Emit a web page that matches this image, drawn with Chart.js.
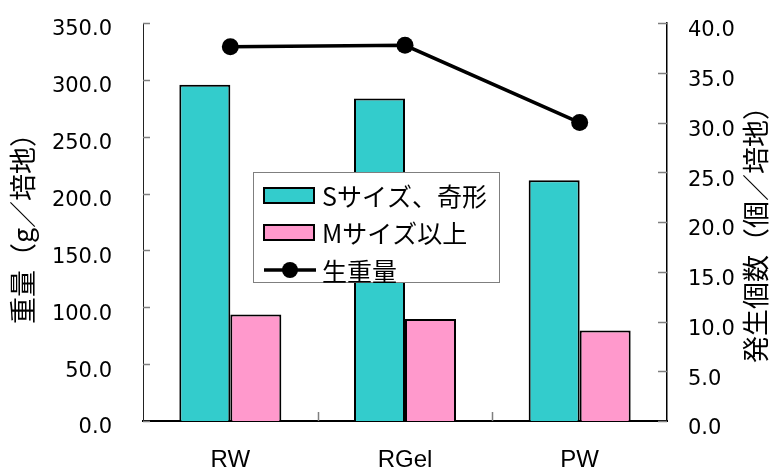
<!DOCTYPE html>
<html>
<head>
<meta charset="utf-8">
<script src="https://cdn.jsdelivr.net/npm/chart.js@4/dist/chart.umd.min.js"></script>
<style>
  html, body { margin: 0; padding: 0; background: #fff; }
  #wrap { width: 773px; height: 469px; }
</style>
</head>
<body>
<div id="wrap"><canvas id="c" width="773" height="469"></canvas></div>
<script>
// Categories and series
const categories = ['RW', 'RGel', 'PW'];
const sSizeCounts = [33.8, 32.4, 24.2];     // Sサイズ、奇形 (個／培地)
const mSizeCounts = [10.7, 10.25, 9.1];     // Mサイズ以上 (個／培地)
const freshWeight = [329.2, 330.4, 262.4];  // 生重量 (g／培地)

// Axis tick values
const weightTicks = [0, 50, 100, 150, 200, 250, 300, 350];
const countTicks = [0, 5, 10, 15, 20, 25, 30, 35, 40];

const seriesNames = ['Sサイズ、奇形', 'Mサイズ以上', '生重量'];
const weightTitle = '重量（g／培地）';
const countTitle = '発生個数（個／培地）';

const TEAL = '#33CCCC';
const PINK = '#FF99CC';
const JP_FONT = '"Noto Sans CJK JP", "Noto Sans", sans-serif';
const NUM_FONT = '"DejaVu Sans", sans-serif';
const LAT_FONT = '"Liberation Sans", Arial, sans-serif';

// Short inward tick marks on all axes, plus rotated axis titles and the in-plot legend
const decorations = {
  id: 'decorations',
  afterDraw(chart) {
    const ctx = chart.ctx;
    const area = chart.chartArea;
    const y = chart.scales.y, y1 = chart.scales.y1, x = chart.scales.x;
    ctx.save();
    ctx.strokeStyle = '#7f7f7f';
    ctx.lineWidth = 1.5;
    y.ticks.forEach(t => {
      const py = Math.round(y.getPixelForValue(t.value)) + 0.5;
      ctx.beginPath(); ctx.moveTo(area.left, py); ctx.lineTo(area.left + 7, py); ctx.stroke();
    });
    y1.ticks.forEach(t => {
      const py = Math.round(y1.getPixelForValue(t.value)) + 0.5;
      ctx.beginPath(); ctx.moveTo(area.right - 9, py); ctx.lineTo(area.right, py); ctx.stroke();
    });
    for (let i = 0; i < categories.length - 1; i++) {
      const px = Math.round((x.getPixelForValue(i) + x.getPixelForValue(i + 1)) / 2) + 0.5;
      ctx.beginPath(); ctx.moveTo(px, area.bottom - 9); ctx.lineTo(px, area.bottom); ctx.stroke();
    }

    // axis titles, both reading bottom-to-top
    ctx.fillStyle = '#000';
    ctx.font = '27px ' + JP_FONT;
    ctx.textAlign = 'center';
    ctx.textBaseline = 'middle';
    ctx.save();
    ctx.translate(area.left - 120, (area.top + area.bottom) / 2);
    ctx.rotate(-Math.PI / 2);
    ctx.fillText(weightTitle, 0, 0);
    ctx.restore();
    ctx.save();
    ctx.translate(area.right + 89, (area.top + area.bottom) / 2 + 6);
    ctx.rotate(-Math.PI / 2);
    ctx.fillText(countTitle, 0, 0);
    ctx.restore();

    // legend box
    const lx = area.left + 110, ly = 172, lw = 246, lh = 110;
    ctx.fillStyle = '#fff';
    ctx.fillRect(lx, ly, lw, lh);
    ctx.strokeStyle = '#7f7f7f';
    ctx.lineWidth = 1;
    ctx.strokeRect(lx + 0.5, ly + 0.5, lw, lh);
    const rows = [ly + 23, ly + 60, ly + 98];
    const sw = [TEAL, PINK];
    ctx.lineWidth = 2;
    for (let i = 0; i < 2; i++) {
      ctx.fillStyle = sw[i];
      ctx.fillRect(lx + 11, rows[i] - 7, 50, 15);
      ctx.strokeStyle = '#000';
      ctx.strokeRect(lx + 11, rows[i] - 7, 50, 15);
    }
    ctx.strokeStyle = '#000';
    ctx.lineWidth = 3.5;
    ctx.beginPath(); ctx.moveTo(lx + 11, rows[2]); ctx.lineTo(lx + 63, rows[2]); ctx.stroke();
    ctx.fillStyle = '#000';
    ctx.beginPath(); ctx.arc(lx + 37, rows[2], 8, 0, Math.PI * 2); ctx.fill();
    ctx.font = '25px ' + JP_FONT;
    ctx.textAlign = 'left';
    ctx.textBaseline = 'middle';
    for (let i = 0; i < 3; i++) ctx.fillText(seriesNames[i], lx + 69, rows[i] + 1);
    ctx.restore();
  }
};

new Chart(document.getElementById('c'), {
  type: 'bar',
  data: {
    labels: categories,
    datasets: [
      {
        type: 'line', label: seriesNames[2], data: freshWeight, yAxisID: 'y', order: 0,
        borderColor: '#000', borderWidth: 3.5, backgroundColor: '#000',
        pointRadius: 8.5, pointBackgroundColor: '#000', pointBorderColor: '#000', pointBorderWidth: 0,
        tension: 0, fill: false
      },
      {
        label: seriesNames[0], data: sSizeCounts, yAxisID: 'y1', order: 1,
        backgroundColor: TEAL, borderColor: '#000', borderWidth: 2,
        categoryPercentage: 0.584, barPercentage: 1.0
      },
      {
        label: seriesNames[1], data: mSizeCounts, yAxisID: 'y1', order: 1,
        backgroundColor: PINK, borderColor: '#000', borderWidth: 2,
        categoryPercentage: 0.584, barPercentage: 1.0
      }
    ]
  },
  options: {
    responsive: false,
    animation: false,
    devicePixelRatio: 1,
    layout: { padding: { top: 23, left: 0, right: 0, bottom: 0 } },
    plugins: { legend: { display: false }, tooltip: { enabled: false } },
    scales: {
      x: {
        grid: { display: false, drawTicks: false },
        border: { display: true, color: '#000', width: 2 },
        ticks: { font: { family: LAT_FONT, size: 24 }, color: '#000', padding: 25 },
        afterFit(s) { s.height = 48; s.paddingLeft = 0; s.paddingRight = 0; }
      },
      y: {
        position: 'left', min: 0, max: 350,
        grid: { display: false, drawTicks: false },
        border: { display: true, color: '#222', width: 1 },
        afterBuildTicks(s) { s.ticks = weightTicks.map(v => ({ value: v })); },
        ticks: {
          font: { family: NUM_FONT, size: 21 }, color: '#000', padding: 31, labelOffset: 7,
          callback: v => Number(v).toFixed(1)
        },
        afterFit(s) { s.width = 143; s.paddingTop = 0; s.paddingBottom = 0; }
      },
      y1: {
        position: 'right', min: 0, max: 40,
        grid: { display: false, drawTicks: false },
        border: { display: true, color: '#000', width: 1.5 },
        afterBuildTicks(s) { s.ticks = countTicks.map(v => ({ value: v })); },
        ticks: {
          font: { family: NUM_FONT, size: 21 }, color: '#000', padding: 21, labelOffset: 8,
          callback: v => Number(v).toFixed(1)
        },
        afterFit(s) { s.width = 106; s.paddingTop = 0; s.paddingBottom = 0; }
      }
    }
  },
  plugins: [decorations]
});
</script>
</body>
</html>
